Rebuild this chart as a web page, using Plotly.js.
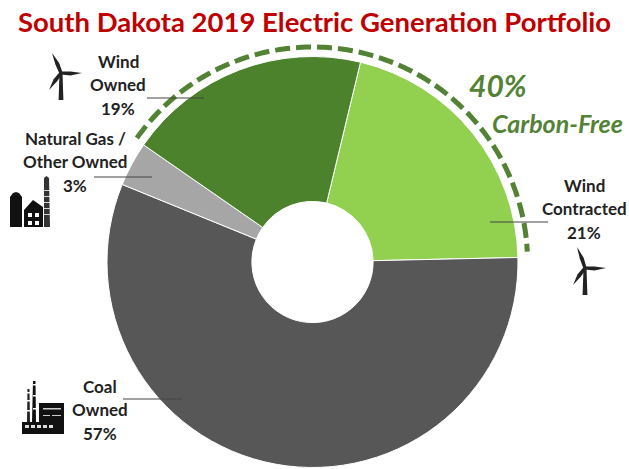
<!DOCTYPE html>
<html><head><meta charset="utf-8">
<script src="https://cdn.plot.ly/plotly-3.0.1.min.js"></script>
<style>html,body{margin:0;padding:0;background:#fff}#c{width:629px;height:469px}</style>
</head><body><div id="c"></div>
<script>
const categories = ["Wind Contracted","Coal Owned","Natural Gas / Other Owned","Wind Owned"];
const labelLinesByCategory = [["Wind","Contracted"],["Coal","Owned"],["Natural Gas /","Other Owned"],["Wind","Owned"]];
const values = [20.9,56.5,3.49,19.1];
const sliceColors = ["#92D050","#575757","#A6A6A6","#4C822B"];
const titleText = "South Dakota 2019 Electric Generation Portfolio";
const carbonFreeShare = 40;
const W=629,H=469;
const cx=312.5,cy=262,R=205.5,rotation=13.5;
const px=x=>x/W, py=y=>1-y/H;
const P=(x,y)=>px(x).toFixed(5)+","+py(y).toFixed(5);
const poly=(pts,close=true)=>"M"+pts.map(p=>P(p[0],p[1])).join("L")+(close?"Z":"");
const rect=(x0,y0,x1,y1)=>poly([[x0,y0],[x1,y0],[x1,y1],[x0,y1]]);
const shapes=[];
const fillShape=(path,color="#111")=>shapes.push({type:"path",xref:"paper",yref:"paper",path,fillcolor:color,line:{width:0},layer:"above"});
const line=(x0,x1,y,color)=>shapes.push({type:"line",xref:"paper",yref:"paper",x0:px(x0),x1:px(x1),y0:py(y),y1:py(y),line:{color,width:1.2},layer:"above"});

// dashed carbon-free arc
const arcEnd=rotation+360*values[0]/100-1.5;
const arcStart=arcEnd-360*carbonFreeShare/100+2;
const arcPts=[];
for(let a=arcStart;a<=arcEnd;a+=1){const t=a*Math.PI/180;arcPts.push([cx+215*Math.sin(t),cy-215*Math.cos(t)]);}
shapes.push({type:"path",xref:"paper",yref:"paper",path:poly(arcPts,false),line:{color:"#548235",width:5,dash:"15px,6px"},fillcolor:"rgba(0,0,0,0)",layer:"above"});

// leader lines
line(147,204,98,"#444");line(94,152,177,"#444");line(490,548,222,"#444");line(123,182,399,"#444");

// turbines
function turbine(hx,hy,tip1,tip2,tip3,by){
  const blade=(t)=>{const dx=t[0]-hx,dy=t[1]-hy,l=Math.hypot(dx,dy),nx=-dy/l,ny=dx/l;
    return poly([[hx+nx*1.6,hy+ny*1.6],[hx+dx*.45+nx*2.4,hy+dy*.45+ny*2.4],[t[0],t[1]],[hx+dx*.45-nx*1.6,hy+dy*.45-ny*1.6],[hx-nx*1.6,hy-ny*1.6]]);};
  fillShape(blade(tip1),"#222");fillShape(blade(tip2),"#222");fillShape(blade(tip3),"#222");
  fillShape(poly([[hx-1.5,hy],[hx+1.5,hy],[hx+2.4,by],[hx-2.4,by]]),"#222");
}
turbine(61,73,[52,53],[82,73],[49,90],100);
turbine(585,268,[577,247],[606,268],[573,285],295);

// gas plant
fillShape(poly([[10,227],[10,197],[13,193],[16,192],[19,193],[22,197],[22,227]]));
fillShape(poly([[24,227],[24,210],[33,200],[43,207],[43,227]]));
fillShape(poly([[44,227],[44,178],[46.5,176],[49,178],[50,227]]),"#333");
[[28,213],[35,213],[28,221],[35,221]].forEach(w=>fillShape(rect(w[0],w[1],w[0]+4,w[1]+4),"#fff"));
[190,196,202,208,214].forEach(y=>fillShape(rect(44,y,50,y+.8),"#fff"));

// coal plant
fillShape(poly([[27,422],[27.5,389],[29.5,389],[30,422]]),"#222");
fillShape(poly([[32,422],[33,381],[35.5,381],[36,422]]),"#111");
fillShape(rect(39,403,64,422));
fillShape(rect(22,422,64,434));
[[43,408,61,409.5],[43,415,50,416],[52,415,61,416]].forEach(r=>fillShape(rect(...r),"#ccc"));
[25,31,37,43,49].forEach(x=>fillShape(rect(x,425,x+4,428),"#ddd"));
[[27,392],[33,384],[27,400],[33,395],[27,410],[33,408]].forEach(p=>fillShape(rect(p[0],p[1],p[0]+3,p[1]+1.5),"#fff"));

const F="Lato, 'Open Sans', sans-serif";
const ann=(text,x,y,size,color,italic)=>({text:italic?`<i><b>${text}</b></i>`:`<b>${text}</b>`,xref:"paper",yref:"paper",x:px(x),y:py(y),xanchor:"center",yanchor:"middle",showarrow:false,align:"center",font:{family:F,size,color}});
const labelPos=[[584,185],[100,386],[75,138],[118,61]];
const annotations=[];
categories.forEach((c,i)=>{
  labelLinesByCategory[i].concat([Math.round(values[i])+"%"]).forEach((t,j)=>
    annotations.push(ann(t,labelPos[i][0],labelPos[i][1]+j*23.7,17,"#222")));
});
annotations.push(ann(carbonFreeShare+"%",498,85,30,"#548235",true));
annotations.push(ann("Carbon-Free",557.5,123,25,"#548235",true));

Plotly.newPlot("c",[{type:"pie",labels:categories,values,sort:false,direction:"clockwise",rotation,hole:0.295,
  marker:{colors:sliceColors,line:{color:"#fff",width:1}},textinfo:"none",hoverinfo:"label+percent",showlegend:false,
  domain:{x:[(cx-R)/W,(cx+R)/W],y:[1-(cy+R)/H,1-(cy-R)/H]}}],
 {width:W,height:H,margin:{l:0,r:0,t:0,b:0},paper_bgcolor:"#fff",showlegend:false,shapes,annotations,
  title:{text:"<b>"+titleText+"</b>",x:314.5/W,xanchor:"center",y:1-22/H,yanchor:"middle",font:{family:F,size:27.5,color:"#C00000"}}},
 {displayModeBar:false});
</script></body></html>
